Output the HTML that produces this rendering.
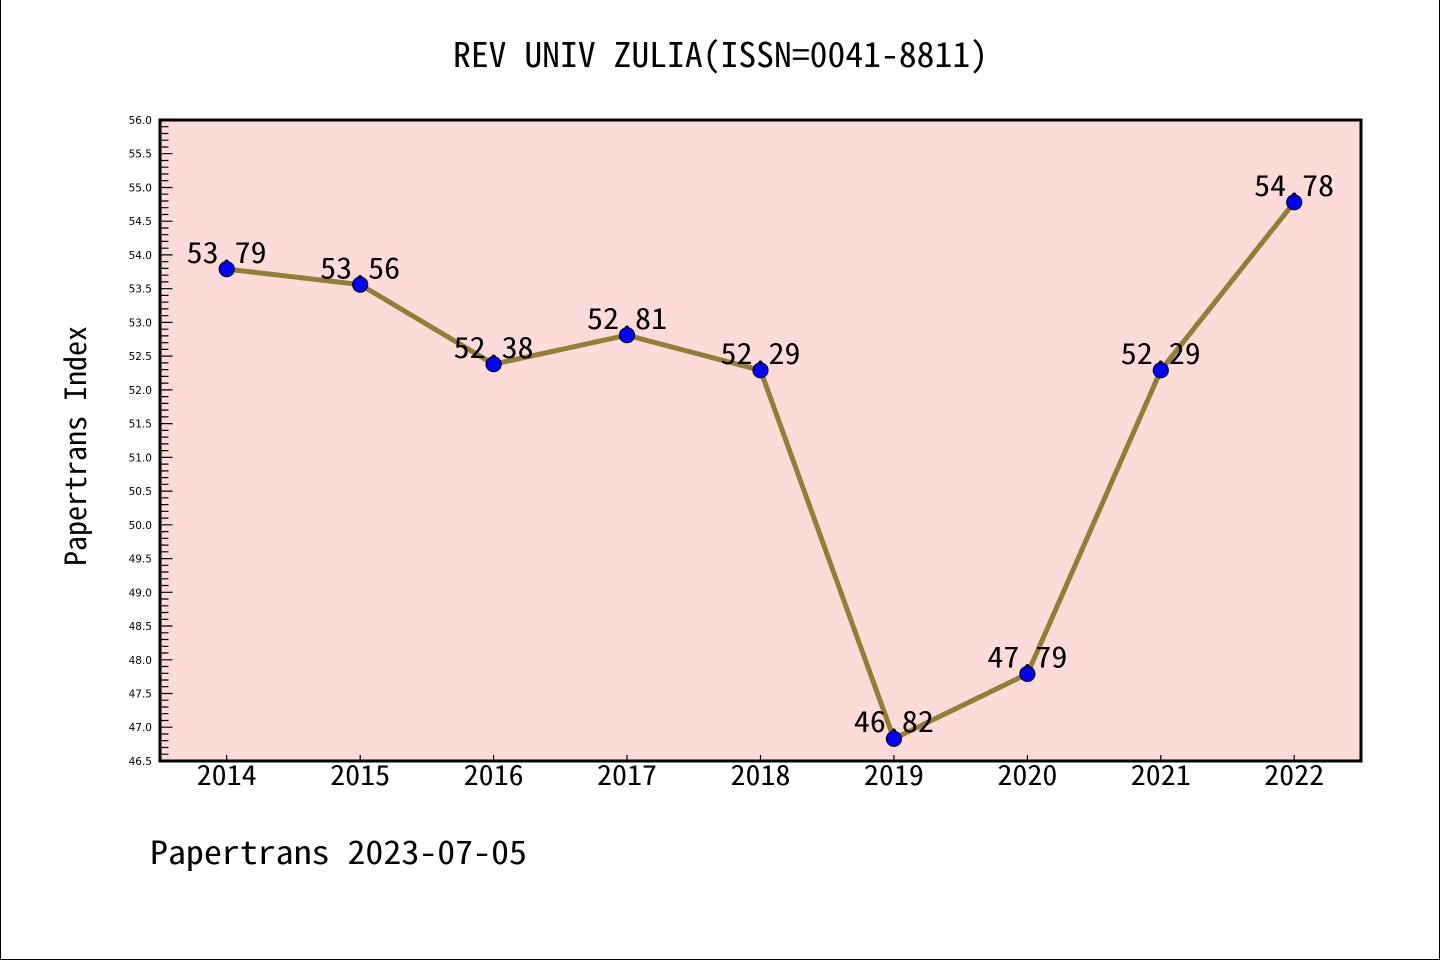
<!DOCTYPE html>
<html>
<head>
<meta charset="utf-8">
<style>
  html, body { margin: 0; padding: 0; background: #ffffff; }
  svg { display: block; }
  .wq { font-family: "WenQuanYi Zen Hei Mono", "Noto Sans Mono CJK SC", "Liberation Mono", monospace; }
  .dj { font-family: "DejaVu Sans", "Liberation Sans", sans-serif; }
</style>
</head>
<body>
<svg width="1440" height="960" viewBox="0 0 1440 960" xmlns="http://www.w3.org/2000/svg">
  <rect x="0" y="0" width="1440" height="960" fill="#ffffff"/>
  <line x1="0.5" y1="0" x2="0.5" y2="960" stroke="#000" stroke-width="1"/>
  <line x1="1439.5" y1="0" x2="1439.5" y2="960" stroke="#000" stroke-width="1"/>
  <line x1="0" y1="959.5" x2="1440" y2="959.5" stroke="#000" stroke-width="1"/>

  <text class="wq" x="720.5" y="67" font-size="34" text-anchor="middle" fill="#000" textLength="535" lengthAdjust="spacingAndGlyphs">REV UNIV ZULIA(ISSN=0041-8811)</text>

  <rect x="160" y="120" width="1201" height="641" fill="#fddbd8"/>

  <path fill="none" stroke="#000" stroke-width="1.2" d="M160 120h12.5M160 153.7h12.5M160 187.5h12.5M160 221.2h12.5M160 254.9h12.5M160 288.7h12.5M160 322.4h12.5M160 356.1h12.5M160 389.9h12.5M160 423.6h12.5M160 457.4h12.5M160 491.1h12.5M160 524.8h12.5M160 558.6h12.5M160 592.3h12.5M160 626h12.5M160 659.8h12.5M160 693.5h12.5M160 727.2h12.5M160 761h12.5"/>
  <path fill="none" stroke="#000" stroke-width="1.2" d="M160 126.7h8.5M160 133.5h8.5M160 140.2h8.5M160 147h8.5M160 160.5h8.5M160 167.2h8.5M160 174h8.5M160 180.7h8.5M160 194.2h8.5M160 201h8.5M160 207.7h8.5M160 214.5h8.5M160 228h8.5M160 234.7h8.5M160 241.4h8.5M160 248.2h8.5M160 261.7h8.5M160 268.4h8.5M160 275.2h8.5M160 281.9h8.5M160 295.4h8.5M160 302.2h8.5M160 308.9h8.5M160 315.7h8.5M160 329.2h8.5M160 335.9h8.5M160 342.7h8.5M160 349.4h8.5M160 362.9h8.5M160 369.6h8.5M160 376.4h8.5M160 383.1h8.5M160 396.6h8.5M160 403.4h8.5M160 410.1h8.5M160 416.9h8.5M160 430.4h8.5M160 437.1h8.5M160 443.9h8.5M160 450.6h8.5M160 464.1h8.5M160 470.9h8.5M160 477.6h8.5M160 484.3h8.5M160 497.8h8.5M160 504.6h8.5M160 511.3h8.5M160 518.1h8.5M160 531.6h8.5M160 538.3h8.5M160 545.1h8.5M160 551.8h8.5M160 565.3h8.5M160 572h8.5M160 578.8h8.5M160 585.5h8.5M160 599h8.5M160 605.8h8.5M160 612.5h8.5M160 619.3h8.5M160 632.8h8.5M160 639.5h8.5M160 646.3h8.5M160 653h8.5M160 666.5h8.5M160 673.3h8.5M160 680h8.5M160 686.7h8.5M160 700.2h8.5M160 707h8.5M160 713.7h8.5M160 720.5h8.5M160 734h8.5M160 740.7h8.5M160 747.5h8.5M160 754.2h8.5"/>

  <g class="dj" font-size="10.5" fill="#000" text-anchor="end">
    <text x="152" y="124">56.0</text>
    <text x="152" y="157.7">55.5</text>
    <text x="152" y="191.5">55.0</text>
    <text x="152" y="225.2">54.5</text>
    <text x="152" y="258.9">54.0</text>
    <text x="152" y="292.7">53.5</text>
    <text x="152" y="326.4">53.0</text>
    <text x="152" y="360.1">52.5</text>
    <text x="152" y="393.9">52.0</text>
    <text x="152" y="427.6">51.5</text>
    <text x="152" y="461.4">51.0</text>
    <text x="152" y="495.1">50.5</text>
    <text x="152" y="528.8">50.0</text>
    <text x="152" y="562.6">49.5</text>
    <text x="152" y="596.3">49.0</text>
    <text x="152" y="630">48.5</text>
    <text x="152" y="663.8">48.0</text>
    <text x="152" y="697.5">47.5</text>
    <text x="152" y="731.2">47.0</text>
    <text x="152" y="765">46.5</text>
  </g>

  <path fill="none" stroke="#000" stroke-width="1.2" d="M226.7 761v-6M360.2 761v-6M493.6 761v-6M627 761v-6M760.5 761v-6M893.9 761v-6M1027.4 761v-6M1160.8 761v-6M1294.2 761v-6"/>

  <g class="wq" font-size="27" fill="#000" text-anchor="middle">
    <text x="226.7" y="785" textLength="60" lengthAdjust="spacingAndGlyphs">2014</text>
    <text x="360.2" y="785" textLength="60" lengthAdjust="spacingAndGlyphs">2015</text>
    <text x="493.6" y="785" textLength="60" lengthAdjust="spacingAndGlyphs">2016</text>
    <text x="627" y="785" textLength="60" lengthAdjust="spacingAndGlyphs">2017</text>
    <text x="760.5" y="785" textLength="60" lengthAdjust="spacingAndGlyphs">2018</text>
    <text x="893.9" y="785" textLength="60" lengthAdjust="spacingAndGlyphs">2019</text>
    <text x="1027.4" y="785" textLength="60" lengthAdjust="spacingAndGlyphs">2020</text>
    <text x="1160.8" y="785" textLength="60" lengthAdjust="spacingAndGlyphs">2021</text>
    <text x="1294.2" y="785" textLength="60" lengthAdjust="spacingAndGlyphs">2022</text>
  </g>

  <polyline fill="none" stroke="#927e38" stroke-width="5" stroke-linejoin="round" points="226.7,269.1 360.2,284.6 493.6,364.2 627,335.2 760.5,370.3 893.9,738.8 1027.4,673.9 1160.8,370.3 1294.2,202.3"/>

  <g class="wq" font-size="29" fill="#000" text-anchor="middle">
    <text x="226.7" y="263" textLength="80" lengthAdjust="spacingAndGlyphs">53.79</text>
    <text x="360.2" y="278.5" textLength="80" lengthAdjust="spacingAndGlyphs">53.56</text>
    <text x="493.6" y="358" textLength="80" lengthAdjust="spacingAndGlyphs">52.38</text>
    <text x="627" y="329" textLength="80" lengthAdjust="spacingAndGlyphs">52.81</text>
    <text x="760.5" y="364" textLength="80" lengthAdjust="spacingAndGlyphs">52.29</text>
    <text x="893.9" y="732" textLength="80" lengthAdjust="spacingAndGlyphs">46.82</text>
    <text x="1027.4" y="667.5" textLength="80" lengthAdjust="spacingAndGlyphs">47.79</text>
    <text x="1160.8" y="364" textLength="80" lengthAdjust="spacingAndGlyphs">52.29</text>
    <text x="1294.2" y="196" textLength="80" lengthAdjust="spacingAndGlyphs">54.78</text>
  </g>

  <g fill="#0000ff" stroke="#000" stroke-width="1">
    <circle cx="226.7" cy="269.1" r="7.6"/>
    <circle cx="360.2" cy="284.6" r="7.6"/>
    <circle cx="493.6" cy="364.2" r="7.6"/>
    <circle cx="627" cy="335.2" r="7.6"/>
    <circle cx="760.5" cy="370.3" r="7.6"/>
    <circle cx="893.9" cy="738.8" r="7.6"/>
    <circle cx="1027.4" cy="673.9" r="7.6"/>
    <circle cx="1160.8" cy="370.3" r="7.6"/>
    <circle cx="1294.2" cy="202.3" r="7.6"/>
  </g>

  <rect x="160" y="120" width="1201" height="641" fill="none" stroke="#000" stroke-width="3"/>

  <text class="wq" x="0" y="0" font-size="29" fill="#000" text-anchor="middle" textLength="240" lengthAdjust="spacingAndGlyphs" transform="translate(86,446) rotate(-90)">Papertrans Index</text>

  <text class="wq" x="150" y="864" font-size="32" fill="#000" textLength="377" lengthAdjust="spacingAndGlyphs">Papertrans 2023-07-05</text>
</svg>
</body>
</html>
